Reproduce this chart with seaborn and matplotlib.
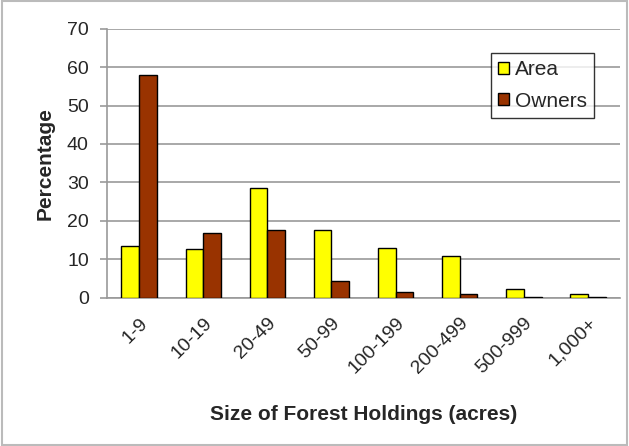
import matplotlib.pyplot as plt
import seaborn as sns
import numpy as np
import pandas as pd
from matplotlib.patches import Rectangle

sizes = ['1-9', '10-19', '20-49', '50-99', '100-199', '200-499', '500-999', '1,000+']
area = [13.6, 12.6, 28.6, 17.7, 12.9, 10.9, 2.4, 1.1]
owners = [57.8, 17.0, 17.7, 4.4, 1.6, 1.0, 0.35, 0.35]

df = pd.DataFrame({
    'Size': sizes * 2,
    'Percentage': area + owners,
    'Series': ['Area'] * len(sizes) + ['Owners'] * len(sizes),
})

sns.set_style('white')
plt.rcParams['font.family'] = 'Liberation Sans'

fig, ax = plt.subplots(figsize=(6.29, 4.46), dpi=100)
fig.subplots_adjust(left=0.170, right=0.986, top=0.936, bottom=0.332)

sns.barplot(data=df, x='Size', y='Percentage', hue='Series',
            palette={'Area': '#FFFF00', 'Owners': '#993300'}, saturation=1,
            width=0.55, edgecolor='black', linewidth=1.0, ax=ax, zorder=3)

ax.set_ylim(0, 70)
ax.set_yticks(np.arange(0, 71, 10))
ax.set_xlim(-0.5, len(sizes) - 0.5)
ax.grid(True, axis='y', color='#999999', linewidth=1.2, zorder=0)
ax.set_axisbelow(True)

for s in ['top', 'right']:
    ax.spines[s].set_visible(False)
for s in ['left', 'bottom']:
    ax.spines[s].set_color('#999999')
    ax.spines[s].set_linewidth(1.2)

ax.set_xticks(np.arange(len(sizes)))
ax.set_xticklabels(sizes, rotation=45, ha='right', rotation_mode='anchor')
ax.set_xticks(np.arange(len(sizes) + 1) - 0.5, minor=True)
ax.tick_params(axis='x', which='major', length=0, labelsize=14, pad=12)
ax.tick_params(axis='x', which='minor', length=5, color='#999999', width=1.2)
ax.tick_params(axis='y', length=5, color='#999999', width=1.2, labelsize=14, pad=8)
ax.tick_params(axis='y', direction='out', left=True)

ax.set_xlabel('Size of Forest Holdings (acres)', fontsize=15, fontweight='bold', labelpad=20)
ax.set_ylabel('Percentage', fontsize=15, fontweight='bold', labelpad=9)

leg = ax.legend(loc='upper left', bbox_to_anchor=(0.7806, 0.8812),
                bbox_transform=fig.transFigure, frameon=True,
                fancybox=False, edgecolor='black', fontsize=15,
                handlelength=0.5, handleheight=0.5, handletextpad=0.3,
                borderpad=0.35, labelspacing=0.6, borderaxespad=0)
leg.get_frame().set_linewidth(1.0)

fig.patches.append(Rectangle((0.003, 0.003), 0.994, 0.994, transform=fig.transFigure,
                             fill=False, edgecolor='#BBBBBB', linewidth=1.5))

plt.savefig('out.png', dpi=100)
plt.close()
